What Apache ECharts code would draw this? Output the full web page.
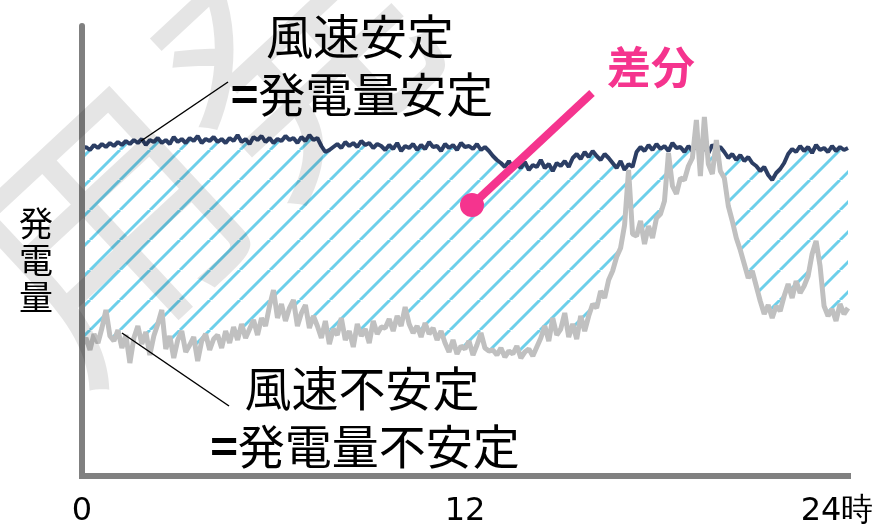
<!DOCTYPE html>
<html>
<head>
<meta charset="utf-8">
<script src="https://cdn.jsdelivr.net/npm/echarts@6/dist/echarts.min.js"></script>
<style>
  html, body { margin: 0; padding: 0; background: #fff; }
  #chart { width: 881px; height: 528px; }
</style>
</head>
<body>
<div id="chart"></div>
<script>
  // 0時〜24時, 7.5分刻み
  const stepHours = 0.125
  const xTicks = [0, 12, 24]

  // 風速安定 = 発電量安定 (紺)
  const stableOutput = [
    327,329,326,331,328,332,329,333,330,334,
    331,335,332,336,333,337,331,336,334,338,333,336,332,339,334,337,333,338,335,340,333,337,335,339,334,
    337,333,338,335,341,334,337,332,339,336,340,334,338,333,337,335,340,336,338,333,339,335,341,336,338,
    330,324,326,329,
    332,328,334,330,333,329,335,331,333,328,332,
    330,326,331,327,333,325,330,328,332,326,331,327,334,329,330,325,332,328,331,326,333,329,330,327,332,326,329,325,
    320,316,
    313,309,315,307,312,308,314,306,311,309,316,308,312,305,313,310,315,309,
    318,322,317,324,319,325,320,316,322,318,
    313,308,315,306,312,309,
    324,329,325,331,326,332,327,330,325,333,328,
    329,324,330,325,332,326,328,323,331,327,329,324,
    318,322,316,321,315,319,313,
    310,305,309,301,296,303,307,313,
    322,327,324,330,325,329,323,331,326,328,324,330,325,329,326,328
  ]

  // 風速不安定 = 発電量不安定 (灰)
  const unstableOutput = [
    131,138,126,142,133,148,166,140,
    135,146,128,141,113,138,150,132,144,121,140,152,166,
    127,140,118,136,145,124,131,139,115,135,142,126,137,
    141,128,145,133,149,136,152,138,147,156,141,158,150,
    170,186,158,172,155,168,176,150,163,171,148,160,
    150,138,155,132,147,141,158,136,145,129,152,140,147,133,155,142,149,
    148,157,145,160,150,169,152,143,
    150,139,153,142,148,136,145,
    133,124,136,122,130,127,135,121,131,143,128,125,
    126,121,128,119,125,122,130,118,124,127,120,129,
    138,150,135,158,141,147,163,139,152,137,160,145,
    160,172,168,185,178,196,205,219,
    228,251,306,242,
    240,255,232,250,238,258,262,
    275,323,290,282,298,
    296,310,318,
    356,300,359,312,
    302,336,305,298,
    270,255,238,226,
    212,198,205,190,
    175,162,171,158,170,165,
    180,192,178,195,183,190,200,
    222,235,210,
    170,160,167,155,172,162,168
  ]

  const toPairs = arr => arr.map((v, i) => [i * stepHours, v])

  function hatchCanvas() {
    const s = 30
    const c = document.createElement('canvas')
    c.width = s
    c.height = s
    const g = c.getContext('2d')
    g.fillStyle = '#fff'
    g.fillRect(0, 0, s, s)
    g.strokeStyle = '#6ccfea'
    g.lineWidth = 3
    for (const o of [-s, 0, s]) {
      g.beginPath()
      g.moveTo(o, s)
      g.lineTo(o + s, 0)
      g.stroke()
    }
    return c
  }

  const jp = '"Noto Sans CJK JP", sans-serif'
  const bigText = { fontSize: 47, fontFamily: jp, color: '#000' }
  const eqRich = { e: { fontSize: 47, fontFamily: jp, fontWeight: 'bold', color: '#000' }, t: bigText }

  const chart = echarts.init(document.getElementById('chart'))
  chart.setOption({
    animation: false,
    grid: { left: 82, right: 33, top: 26, bottom: 52 },
    xAxis: {
      type: 'value',
      min: 0,
      max: 24,
      interval: 12,
      z: 10,
      axisLine: { lineStyle: { color: '#808080', width: 6, cap: 'square' } },
      axisTick: { show: false },
      splitLine: { show: false },
      axisLabel: {
        margin: 20,
        color: '#000',
        fontSize: 32,
        fontFamily: '"DejaVu Sans", sans-serif',
        formatter: v => (xTicks.indexOf(v) < 0 ? '' : (v === 24 ? '{r|24時}' : String(v))),
        rich: { r: { fontSize: 32, fontFamily: '"DejaVu Sans", sans-serif', color: '#000', padding: [0, 22, 0, 0] } }
      }
    },
    yAxis: {
      type: 'value',
      min: 0,
      max: 450,
      z: 10,
      axisLine: { show: true, lineStyle: { color: '#808080', width: 6 } },
      axisTick: { show: false },
      axisLabel: { show: false },
      splitLine: { show: false }
    },
    series: [
      {
        // 差分 (斜線): 安定側の下を斜線で塗り、不安定側の下を白で覆う
        name: '差分',
        type: 'line',
        symbol: 'none',
        silent: true,
        z: 1,
        lineStyle: { opacity: 0 },
        areaStyle: { color: { image: hatchCanvas(), repeat: 'repeat' }, opacity: 1 },
        data: toPairs(stableOutput)
      },
      {
        name: 'mask',
        type: 'line',
        symbol: 'none',
        silent: true,
        z: 2,
        lineStyle: { opacity: 0 },
        areaStyle: { color: '#fff', opacity: 1 },
        data: toPairs(unstableOutput)
      },
      {
        name: '風速安定',
        type: 'line',
        symbol: 'none',
        z: 3,
        lineStyle: { color: '#2c3e64', width: 4 },
        data: toPairs(stableOutput)
      },
      {
        name: '風速不安定',
        type: 'line',
        symbol: 'none',
        z: 4,
        lineStyle: { color: '#c0c0c0', width: 5 },
        data: toPairs(unstableOutput)
      }
    ],
    graphic: [
      { type: 'text', x: 200, y: 140, rotation: 0.75, silent: true, z: 15, style: { text: '用発', fill: 'rgba(0,0,0,0.1)', font: '260px ' + jp, align: 'center', verticalAlign: 'middle' } },
      { type: 'text', x: 36, y: 260, z: 20, style: { text: '発\n電\n量', fill: '#000', font: '34px ' + jp, lineHeight: 37, align: 'center', verticalAlign: 'middle' } },
      { type: 'text', x: 360, y: 36, z: 20, style: { text: '風速安定', fill: '#000', font: '47px ' + jp, align: 'center', verticalAlign: 'middle' } },
      { type: 'text', x: 362, y: 94, z: 20, style: { text: '{e|=}{t|発電量安定}', rich: eqRich, align: 'center', verticalAlign: 'middle' } },
      { type: 'text', x: 362, y: 388, z: 20, style: { text: '風速不安定', fill: '#000', font: '47px ' + jp, align: 'center', verticalAlign: 'middle' } },
      { type: 'text', x: 365, y: 446, z: 20, style: { text: '{e|=}{t|発電量不安定}', rich: eqRich, align: 'center', verticalAlign: 'middle' } },
      { type: 'line', shape: { x1: 141, y1: 141, x2: 228, y2: 82 }, style: { stroke: '#000', lineWidth: 1.5 }, z: 20 },
      { type: 'line', shape: { x1: 122, y1: 333, x2: 229, y2: 406 }, style: { stroke: '#000', lineWidth: 1.5 }, z: 20 },
      { type: 'text', x: 651, y: 67, z: 20, style: { text: '差分', fill: '#f5348e', font: 'bold 44px ' + jp, align: 'center', verticalAlign: 'middle' } },
      { type: 'line', shape: { x1: 592, y1: 93, x2: 472, y2: 205 }, style: { stroke: '#f5348e', lineWidth: 8 }, z: 20 },
      { type: 'circle', shape: { cx: 472, cy: 205, r: 12 }, style: { fill: '#f5348e' }, z: 20 }
    ]
  })
</script>
</body>
</html>
